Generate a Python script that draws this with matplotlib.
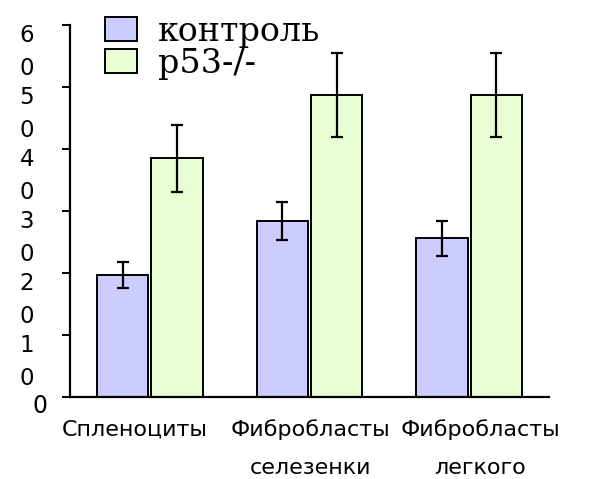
import matplotlib
matplotlib.use("Agg")

import matplotlib.pyplot as plt
import numpy as np

categories = ["Спленоциты", "Фибробласты\nселезенки", "Фибробласты\nлегкого"]
series_names = ["контроль", "p53-/-"]
control_vals = [19.7, 28.4, 25.6]
control_err = [2.1, 3.1, 2.8]
p53_vals = [38.5, 48.7, 48.7]
p53_err = [5.4, 6.8, 6.8]
y_ticks = [0, 10, 20, 30, 40, 50, 60]

fig = plt.figure(figsize=(5.96, 4.79), dpi=100)
ax = fig.add_axes([70 / 596, 82 / 479, 479 / 596, 372 / 479])

x = np.arange(len(categories))
width = 0.32
offset = 0.17
err_kw = dict(elinewidth=1.6, capsize=4.5, capthick=1.6, ecolor="black")
b1 = ax.bar(x - offset, control_vals, width, yerr=control_err, color="#ccccff",
            edgecolor="black", linewidth=1.4, error_kw=err_kw, label=series_names[0])
b2 = ax.bar(x + offset, p53_vals, width, yerr=p53_err, color="#e8ffd4",
            edgecolor="black", linewidth=1.4, error_kw=err_kw, label=series_names[1])

ax.set_xlim(-0.5, 2.5)
ax.set_ylim(0, 60)
for s in ("top", "right"):
    ax.spines[s].set_visible(False)
for s in ("left", "bottom"):
    ax.spines[s].set_linewidth(1.6)

ax.set_xticks([])
ax.set_yticks(y_ticks)
ax.set_yticklabels([])
ax.tick_params(axis="y", direction="out", length=6, width=1.4)

# y labels: digits stacked on two lines
for v in y_ticks:
    if v == 0:
        ax.annotate("0", xy=(0, v), xycoords=("axes fraction", "data"),
                    xytext=(-16, 2), textcoords="offset points",
                    ha="right", va="top", fontsize=17, family="DejaVu Sans")
    else:
        ax.annotate("\n".join(str(v)), xy=(0, v), xycoords=("axes fraction", "data"),
                    xytext=(-26, 1), textcoords="offset points",
                    ha="right", va="top", fontsize=16.5, family="DejaVu Sans",
                    linespacing=1.6)

# x category labels
label_dx = [-11, 1, 8]
for i, lab in enumerate(categories):
    ax.annotate(lab, xy=(x[i], 0), xycoords=("data", "axes fraction"),
                xytext=(label_dx[i], -16), textcoords="offset points",
                ha="center", va="top", fontsize=16, family="DejaVu Sans",
                linespacing=2.1)

ax.legend(handles=[b1, b2], loc="upper left", bbox_to_anchor=(0.073, 1.025),
          frameon=False, prop={"family": "DejaVu Serif", "size": 24},
          handlelength=0.95, handleheight=0.75, handletextpad=0.65,
          labelspacing=0.0, borderpad=0, borderaxespad=0)

fig.savefig("out.png", dpi=100)
plt.close(fig)
